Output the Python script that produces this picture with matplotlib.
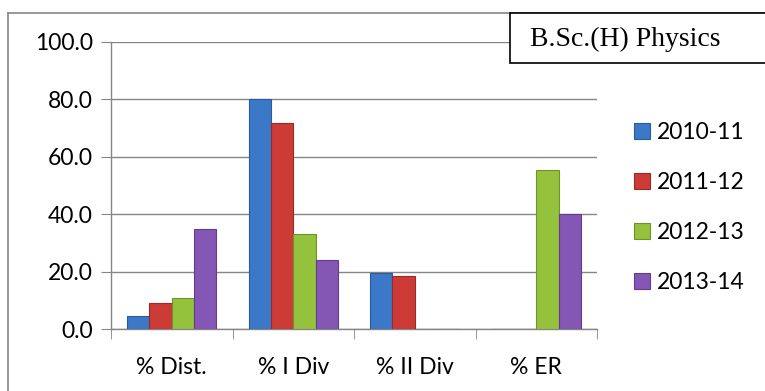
import numpy as np
import matplotlib.pyplot as plt
from matplotlib.patches import Rectangle

categories = ['% Dist.', '% I Div', '% II Div', '% ER']
years = ['2010-11', '2011-12', '2012-13', '2013-14']
v_2010 = [4.6, 80.0, 19.5, 0.0]
v_2011 = [9.1, 71.9, 18.5, 0.0]
v_2012 = [10.8, 33.0, 0.0, 55.3]
v_2013 = [34.8, 24.1, 0.0, 40.1]
series = [v_2010, v_2011, v_2012, v_2013]
colors = ['#3b78c8', '#cc3b36', '#95c23d', '#8457b5']
edges = ['#2a5a9a', '#992a27', '#6f9228', '#603e88']

plt.rcParams['font.family'] = ['Lato', 'DejaVu Sans']

fig = plt.figure(figsize=(7.65, 3.91), dpi=100)
ax = fig.add_axes([111/765, 1 - 329.3/391, (597 - 111)/765, (329.3 - 42)/391])

x = np.arange(len(categories))
w = 0.184
for i, (vals, c, ec) in enumerate(zip(series, colors, edges)):
    pos = x + (i - 1.5) * w
    ax.bar(pos, vals, width=w, color=c, edgecolor=ec, linewidth=0.8,
           label=years[i], zorder=3)

ax.set_xlim(-0.5, 3.5)
ax.set_ylim(0, 100)
ax.set_yticks(np.arange(0, 101, 20))
ax.set_yticklabels([f'{t:.1f}' for t in range(0, 101, 20)], fontsize=16.5)
ax.set_xticks(x)
ax.set_xticklabels(categories, fontsize=16.5)
ax.set_xticks(np.arange(-0.5, 4, 1), minor=True)
ax.tick_params(axis='x', which='major', length=0, pad=20)
ax.tick_params(axis='x', which='minor', length=7, color='#868686', direction='out')
ax.tick_params(axis='y', length=7, color='#868686', pad=6)
ax.grid(axis='y', color='#868686', linewidth=1.0, zorder=0)
for s in ['top', 'right']:
    ax.spines[s].set_visible(False)
for s in ['left', 'bottom']:
    ax.spines[s].set_color('#868686')
    ax.spines[s].set_linewidth(1.0)

ax.legend(loc='upper left', bbox_to_anchor=(634/765, 1 - 122/391),
          bbox_transform=fig.transFigure, frameon=False, fontsize=16.5,
          handlelength=0.7, handleheight=0.7, handletextpad=0.3,
          labelspacing=1.26, borderaxespad=0, borderpad=0)

# outer chart frame (left and top edges visible)
fig.add_artist(plt.Line2D([8/765, 8/765], [0, 1 - 13/391], color='#868686',
                          linewidth=1.2, transform=fig.transFigure))
fig.add_artist(plt.Line2D([8/765, 1], [1 - 13/391, 1 - 13/391], color='#868686',
                          linewidth=1.2, transform=fig.transFigure))

# title box
fig.add_artist(Rectangle((510/765, 1 - 63/391), 260/765, 50/391,
                         facecolor='white', edgecolor='black', linewidth=1.2,
                         transform=fig.transFigure, zorder=5))
fig.text(530/765, 1 - 39/391, 'B.Sc.(H) Physics', fontsize=20,
         family='Liberation Serif', va='center', ha='left', zorder=6)

fig.savefig('out.png', dpi=100)
